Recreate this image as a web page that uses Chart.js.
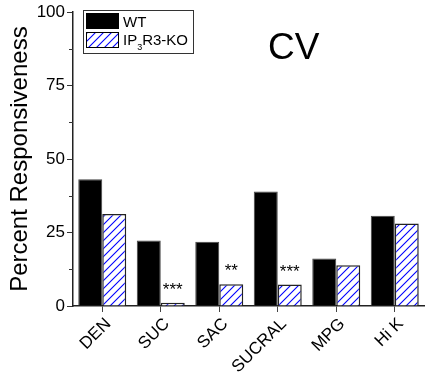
<!DOCTYPE html>
<html>
<head>
<meta charset="utf-8">
<script src="https://cdn.jsdelivr.net/npm/chart.js@4/dist/chart.umd.min.js"></script>
<style>
  html, body { margin: 0; padding: 0; background: #fff; }
  canvas { display: block; }
</style>
</head>
<body>
<canvas id="chart" width="426" height="376"></canvas>
<script>
// data
const categories = ['DEN', 'SUC', 'SAC', 'SUCRAL', 'MPG', 'Hi K'];
const wtValues = [43.1, 22.3, 21.9, 39.0, 16.2, 30.7];
const koValues = [31.3, 1.1, 7.4, 7.3, 13.9, 28.1];
const koStars = ['', '***', '**', '***', '', ''];
const yTicks = [0, 25, 50, 75, 100];
const yMinorTicks = [12.5, 37.5, 62.5, 87.5];

const FONT = '"Liberation Sans", Arial, sans-serif';

// blue diagonal hatch
function makeHatch() {
  const c = document.createElement('canvas');
  c.width = 8; c.height = 8;
  const g = c.getContext('2d');
  g.fillStyle = '#ffffff';
  g.fillRect(0, 0, 8, 8);
  g.strokeStyle = '#0000ff';
  g.lineWidth = 1.1;
  g.beginPath();
  g.moveTo(-1, 9); g.lineTo(9, -1);
  g.moveTo(-1, 1); g.lineTo(1, -1);
  g.moveTo(7, 9); g.lineTo(9, 7);
  g.stroke();
  return g.createPattern(c, 'repeat');
}

const ctx = document.getElementById('chart').getContext('2d');
const hatch = makeHatch();

const extras = {
  id: 'extras',
  afterDraw(chart) {
    const c = chart.ctx;
    const y = chart.scales.y;
    c.save();
    // minor ticks on y axis
    c.strokeStyle = '#333';
    c.lineWidth = 1;
    yMinorTicks.forEach(v => {
      const py = Math.round(y.getPixelForValue(v)) + 0.5;
      c.beginPath();
      c.moveTo(y.right - 4, py);
      c.lineTo(y.right, py);
      c.stroke();
    });

    // significance stars
    const meta = chart.getDatasetMeta(1);
    c.fillStyle = '#000';
    c.font = '17px ' + FONT;
    c.textAlign = 'center';
    c.textBaseline = 'alphabetic';
    meta.data.forEach((bar, i) => {
      if (koStars[i]) c.fillText(koStars[i], bar.x, bar.y - 8);
    });

    // title
    c.font = '37px ' + FONT;
    c.textAlign = 'left';
    c.fillText('CV', 268, 59);

    // legend
    c.strokeStyle = '#333';
    c.lineWidth = 1;
    c.strokeRect(83.5, 10.5, 110, 43);
    c.fillStyle = '#000';
    c.fillRect(86, 13, 33, 16);
    c.fillStyle = hatch;
    c.fillRect(86, 32, 33, 16);
    c.strokeStyle = '#000';
    c.strokeRect(86.5, 32.5, 32, 15);
    c.fillStyle = '#000';
    c.font = '15px ' + FONT;
    c.fillText('WT', 123, 27);
    c.fillText('IP', 123, 45);
    const w1 = c.measureText('IP').width;
    c.font = '9px ' + FONT;
    c.fillText('3', 123 + w1, 50);
    const w2 = c.measureText('3').width;
    c.font = '15px ' + FONT;
    c.fillText('R3-KO', 123 + w1 + w2, 45);
    c.restore();
  }
};

new Chart(ctx, {
  type: 'bar',
  data: {
    labels: categories,
    datasets: [
      {
        label: 'WT',
        data: wtValues,
        backgroundColor: '#000',
        borderColor: '#444',
        borderWidth: 1,
        categoryPercentage: 0.82,
        barPercentage: 1.0
      },
      {
        label: 'IP3R3-KO',
        data: koValues,
        backgroundColor: hatch,
        borderColor: '#222',
        borderWidth: 1.5,
        categoryPercentage: 0.82,
        barPercentage: 1.0
      }
    ]
  },
  options: {
    responsive: false,
    animation: false,
    layout: { padding: { top: 10, right: 2, left: 0, bottom: 0 } },
    plugins: {
      legend: { display: false },
      tooltip: { enabled: false }
    },
    scales: {
      x: {
        offset: true,
        border: { color: '#222', width: 1.5 },
        grid: { drawOnChartArea: false, drawTicks: true, tickLength: 6, color: '#444', offset: false },
        ticks: {
          color: '#000',
          font: { family: FONT, size: 17 },
          maxRotation: 45,
          minRotation: 45,
          padding: 2,
          labelOffset: 6
        },
        afterFit: s => { s.height = 70; }
      },
      y: {
        min: 0,
        max: 100,
        border: { color: '#222', width: 1.5 },
        grid: { drawOnChartArea: false, drawTicks: true, tickLength: 6, color: '#333' },
        afterBuildTicks: s => { s.ticks = yTicks.map(v => ({ value: v })); },
        ticks: {
          color: '#000',
          font: { family: FONT, size: 17 },
          padding: 2
        },
        title: {
          display: true,
          text: 'Percent Responsiveness',
          color: '#000',
          font: { family: FONT, size: 24 },
          padding: { top: 6, bottom: 0 }
        },
        afterFit: s => { s.width = 73; }
      }
    }
  },
  plugins: [extras]
});
</script>
</body>
</html>
